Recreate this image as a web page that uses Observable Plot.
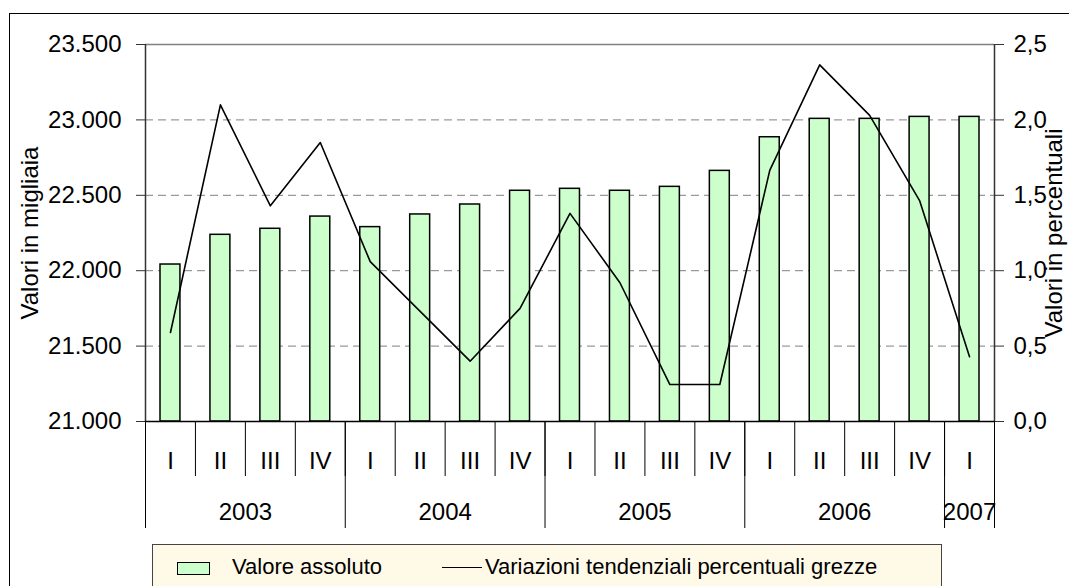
<!DOCTYPE html>
<html><head><meta charset="utf-8">
<script src="https://cdn.jsdelivr.net/npm/d3@7"></script>
<script src="https://cdn.jsdelivr.net/npm/@observablehq/plot@0.6"></script>
<style>
html,body{margin:0;padding:0;background:#fff;overflow:hidden;}
body{font-family:"Liberation Sans",Arial,sans-serif;width:1069px;height:586px;position:relative;}
#frame{position:absolute;left:9px;top:13px;width:1060px;height:573px;border-top:1.5px solid #000;border-left:1.5px solid #000;box-sizing:border-box;}
#chart{position:absolute;left:0;top:0;}
#legend{position:absolute;left:152px;top:544px;width:790px;height:50px;background:#FFFAE8;border:1px solid #444;box-sizing:border-box;font-size:22px;}
#legend span{position:absolute;white-space:nowrap;}
</style></head><body>
<div id="frame"></div>
<div id="chart"></div>
<div id="legend"></div>
<script>
// ---- data ----
const quarters = ["I","II","III","IV","I","II","III","IV","I","II","III","IV","I","II","III","IV","I"];
const years = ["2003","2004","2005","2006","2007"];
const quartersPerYear = [4,4,4,4,1];
const valoreAssoluto = [22041,22238,22278,22359,22289,22373,22439,22530,22543,22530,22556,22662,22885,23007,23007,23020,23020];
const variazioniPct = [0.59,2.10,1.43,1.85,1.06,0.73,0.40,0.75,1.38,0.92,0.245,0.245,1.665,2.365,2.03,1.465,0.43];
const leftTicks = [21000,21500,22000,22500,23000,23500];
const rightTicks = [0,0.5,1,1.5,2,2.5];
const legendLabels = ["Valore assoluto","Variazioni tendenziali percentuali grezze"];
const leftLabel = "Valori in migliaia";
const rightLabel = "Valori in percentuali";

// ---- derived ----
const base = leftTicks[0];
const ratio = (leftTicks[leftTicks.length-1]-base) / rightTicks[rightTicks.length-1];
const pctToLeft = p => base + p * ratio;
const rows = quarters.map((q,i)=>({i, q, v: valoreAssoluto[i], p: variazioniPct[i]}));
let acc = 0;
const yearRows = years.map((y,k)=>{const s=acc; acc+=quartersPerYear[k]; return {year:y, start:s, end:acc, mid:(s+acc)/2};});
const yearBounds = [0, ...yearRows.map(d=>d.end)];
const quarterBounds = d3.range(1, quarters.length);
const it = d3.formatLocale({decimal:",", thousands:".", grouping:[3], currency:["","€"]});
const fmtLeft = it.format(",d");
const fmtRight = d => it.format(".1f")((d-base)/ratio);

const chart = Plot.plot({
  width: 1069, height: 540,
  marginLeft: 145, marginRight: 75, marginTop: 44, marginBottom: 119,
  style: {fontFamily: '"Liberation Sans", Arial, sans-serif', fontSize: "24px", color: "#000", background: "transparent", overflow: "visible"},
  x: {type: "linear", domain: [0, quarters.length]},
  y: {domain: [base, leftTicks[leftTicks.length-1]]},
  marks: [
    Plot.gridY(leftTicks.slice(1, -1), {stroke: "#808080", strokeOpacity: 1, strokeDasharray: "8,5", strokeWidth: 1}),
    Plot.ruleY([leftTicks[leftTicks.length-1]], {stroke: "#808080", strokeWidth: 1.5}),
    Plot.rectY(rows, {x1: "i", x2: d=>d.i+1, y1: base, y2: "v", insetLeft: 15, insetRight: 15, fill: "#CCFFCC", stroke: "#000", strokeWidth: 1.5}),
    Plot.line(rows, {x: d=>d.i+0.5, y: d=>pctToLeft(d.p), stroke: "#000", strokeWidth: 1.6}),
    Plot.axisY({ticks: leftTicks, anchor: "left", tickFormat: fmtLeft, tickSize: 9, tickPadding: 15, label: null, stroke: "#333"}),
    Plot.axisY({ticks: rightTicks.map(pctToLeft), anchor: "right", tickFormat: fmtRight, tickSize: 9, tickPadding: 10, label: null, stroke: "#333"}),
    Plot.ruleX([0, quarters.length], {stroke: "#333", strokeWidth: 1.5}),
    Plot.ruleY([base], {stroke: "#000", strokeWidth: 1.5}),
    Plot.axisX({ticks: quarterBounds, anchor: "bottom", tickSize: 55, tickFormat: () => "", label: null, stroke: "#000"}),
    Plot.axisX({ticks: yearBounds, anchor: "bottom", tickSize: 107, tickFormat: () => "", label: null, stroke: "#000"}),
    Plot.text(rows, {x: d=>d.i+0.5, text: "q", frameAnchor: "bottom", dy: 40, lineAnchor: "middle", fill: "#000"}),
    Plot.text(yearRows, {x: "mid", text: "year", frameAnchor: "bottom", dy: 91, lineAnchor: "middle", fill: "#000"}),
    Plot.text([leftLabel], {text: d=>d, frameAnchor: "left", textAnchor: "middle", dx: -115, rotate: -90, lineAnchor: "middle", fill: "#000"}),
    Plot.text([rightLabel], {text: d=>d, frameAnchor: "right", textAnchor: "middle", dx: 60, rotate: -90, lineAnchor: "middle", fill: "#000"})
  ]
});
document.getElementById("chart").appendChild(chart);

// ---- legend ----
const lg = document.getElementById("legend");
lg.innerHTML = `
<span style="left:24px;top:17px;width:33px;height:13px;background:#CCFFCC;border:1.5px solid #000;box-sizing:border-box;"></span>
<span style="left:79px;top:9px;">${legendLabels[0]}</span>
<span style="left:289px;top:22px;width:40px;height:0;border-top:1.5px solid #000;"></span>
<span style="left:332px;top:9px;">${legendLabels[1]}</span>`;
</script>
</body></html>
